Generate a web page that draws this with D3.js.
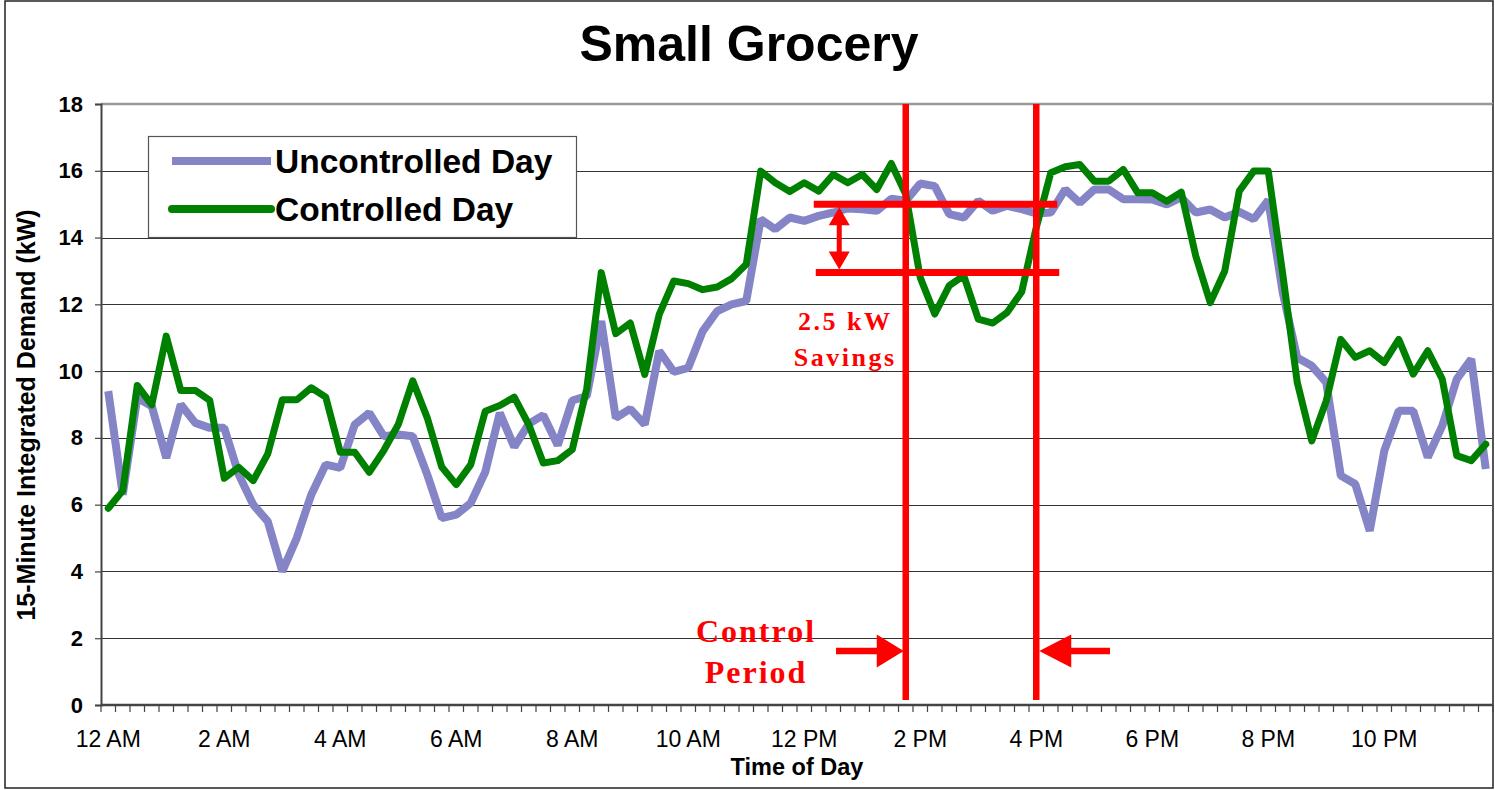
<!DOCTYPE html>
<html>
<head>
<meta charset="utf-8">
<script src="https://cdn.jsdelivr.net/npm/d3@7"></script>
<style>
  html, body { margin: 0; padding: 0; background: #fff; }
  svg { display: block; }
</style>
</head>
<body>
<svg id="chart" width="1495" height="790"></svg>
<script>
// 15-minute slots over one day (96 categories)
const slots = d3.range(96).map(i =>
    String(Math.floor(i / 4)).padStart(2, '0') + ':' + String((i % 4) * 15).padStart(2, '0'));

// Every 8th slot gets a label
const tickLabels = ['12 AM', '2 AM', '4 AM', '6 AM', '8 AM', '10 AM',
                    '12 PM', '2 PM', '4 PM', '6 PM', '8 PM', '10 PM'];
const tickSlots = ['00:00', '02:00', '04:00', '06:00', '08:00', '10:00',
                   '12:00', '14:00', '16:00', '18:00', '20:00', '22:00'];

const yTicks = [0, 2, 4, 6, 8, 10, 12, 14, 16, 18];

// Demand in kW
const uncontrolled = [
    9.4, 6.3, 9.2, 8.95, 7.4, 9.0, 8.45, 8.3, 8.3, 6.9, 6.0, 5.5,
    4.0, 5.0, 6.3, 7.2, 7.1, 8.4, 8.75, 8.05, 8.1, 8.05, 6.9, 5.6,
    5.7, 6.05, 6.98, 8.75, 7.73, 8.42, 8.68, 7.78, 9.12, 9.25, 11.5, 8.6,
    8.87, 8.4, 10.6, 9.98, 10.1, 11.2, 11.8, 12.0, 12.1, 14.55, 14.25, 14.6,
    14.5, 14.65, 14.75, 14.87, 14.85, 14.8, 15.16, 15.1, 15.62, 15.54, 14.7, 14.6,
    15.1, 14.8, 14.95, 14.85, 14.72, 14.75, 15.44, 15.04, 15.44, 15.44, 15.15, 15.15,
    15.14, 14.99, 15.2, 14.75, 14.84, 14.6, 14.77, 14.55, 15.12, 12.35, 10.4, 10.16,
    9.66, 6.87, 6.62, 5.22, 7.61, 8.81, 8.81, 7.42, 8.36, 9.76, 10.36, 7.07
];

const controlled = [
    5.89, 6.42, 9.57, 8.99, 11.05, 9.42, 9.42, 9.12, 6.79, 7.12, 6.72, 7.52,
    9.14, 9.14, 9.5, 9.22, 7.57, 7.57, 6.97, 7.62, 8.4, 9.71, 8.6, 7.13,
    6.6, 7.2, 8.8, 8.97, 9.22, 8.4, 7.25, 7.32, 7.65, 9.47, 12.95, 11.12,
    11.44, 9.9, 11.7, 12.7, 12.62, 12.44, 12.52, 12.77, 13.2, 15.99, 15.64, 15.38,
    15.64, 15.39, 15.89, 15.64, 15.89, 15.44, 16.22, 15.3, 12.8, 11.71, 12.56, 12.86,
    11.56, 11.44, 11.76, 12.38, 14.3, 15.94, 16.12, 16.19, 15.69, 15.69, 16.04, 15.34,
    15.34, 15.09, 15.36, 13.45, 12.05, 13.0, 15.39, 15.99, 15.99, 12.9, 9.66, 7.91,
    9.11, 10.95, 10.41, 10.61, 10.26, 10.95, 9.91, 10.61, 9.76, 7.47, 7.32, 7.81
];

const seriesNames = ['Uncontrolled Day', 'Controlled Day'];

// Annotation anchors
const controlStart = '13:45';
const controlEnd = '16:00';
const savingsHigh = 15.0;
const savingsLow = 12.95;

// Layout
const plot = { left: 101, right: 1493, top: 104, bottom: 705 };
const purple = '#8484c6';
const green = '#008000';
const red = '#ff0000';
const sans = '"Liberation Sans", Arial, sans-serif';
const serif = '"Liberation Serif", "Times New Roman", serif';

const svg = d3.select('#chart');

const x = d3.scaleBand()
    .domain(slots)
    .range([plot.left, plot.right])
    .padding(0);
const bw = x.bandwidth();
const xc = s => x(s) + bw / 2;

const y = d3.scaleLinear()
    .domain([0, 18])
    .range([plot.bottom, plot.top]);

// Outer chart border
svg.append('rect')
    .attr('x', 5).attr('y', 1)
    .attr('width', 1488).attr('height', 787)
    .attr('fill', '#fff')
    .attr('stroke', '#222')
    .attr('stroke-width', 1.5);

// Title
svg.append('text')
    .attr('x', 749).attr('y', 61)
    .attr('text-anchor', 'middle')
    .style('font-family', sans)
    .style('font-weight', 'bold')
    .style('font-size', '50px')
    .text('Small Grocery');

// Gridlines
svg.append('g')
    .selectAll('line')
    .data(yTicks.filter(v => v > 0 && v < 18))
    .join('line')
    .attr('x1', plot.left).attr('x2', plot.right)
    .attr('y1', d => Math.round(y(d)) + 0.5)
    .attr('y2', d => Math.round(y(d)) + 0.5)
    .attr('stroke', '#333')
    .attr('stroke-width', 1);

// Plot border (top + right)
svg.append('line')
    .attr('x1', plot.left).attr('x2', plot.right)
    .attr('y1', plot.top).attr('y2', plot.top)
    .attr('stroke', '#999').attr('stroke-width', 2.5);
svg.append('line')
    .attr('x1', plot.right).attr('x2', plot.right)
    .attr('y1', plot.top).attr('y2', plot.bottom)
    .attr('stroke', '#555').attr('stroke-width', 1.5);

// Y axis
const yAxis = d3.axisLeft(y)
    .tickValues(yTicks)
    .tickSize(6)
    .tickPadding(12);
const gy = svg.append('g')
    .attr('transform', `translate(${plot.left},0)`)
    .call(yAxis);
gy.select('.domain').attr('stroke', '#444').attr('stroke-width', 2);
gy.selectAll('.tick line').attr('stroke', '#444').attr('stroke-width', 1.2);
gy.selectAll('.tick text')
    .style('font-family', sans)
    .style('font-weight', 'bold')
    .style('font-size', '22px')
    .attr('fill', '#000');

// X axis: tick at every slot boundary, labels every two hours
const gx = svg.append('g')
    .attr('transform', `translate(0,${plot.bottom})`);
gx.append('line')
    .attr('x1', plot.left).attr('x2', plot.right)
    .attr('stroke', '#444').attr('stroke-width', 2.5);
gx.selectAll('line.tk')
    .data(slots.concat(['end']))
    .join('line')
    .attr('class', 'tk')
    .attr('x1', (d, i) => plot.left + i * bw)
    .attr('x2', (d, i) => plot.left + i * bw)
    .attr('y1', 0).attr('y2', 7)
    .attr('stroke', '#444').attr('stroke-width', 1.2);
gx.selectAll('text')
    .data(tickSlots)
    .join('text')
    .attr('x', d => xc(d))
    .attr('y', 42)
    .attr('text-anchor', 'middle')
    .style('font-family', sans)
    .style('font-size', '23px')
    .text((d, i) => tickLabels[i]);

// Axis titles
svg.append('text')
    .attr('x', (plot.left + plot.right) / 2)
    .attr('y', 775)
    .attr('text-anchor', 'middle')
    .style('font-family', sans)
    .style('font-weight', 'bold')
    .style('font-size', '23.5px')
    .text('Time of Day');

svg.append('text')
    .attr('transform', 'translate(35,415) rotate(-90)')
    .attr('text-anchor', 'middle')
    .style('font-family', sans)
    .style('font-weight', 'bold')
    .style('font-size', '25px')
    .text('15-Minute Integrated Demand (kW)');

// Series
const line = d3.line()
    .x((d, i) => xc(slots[i]))
    .y(d => y(d));

svg.append('path')
    .datum(uncontrolled)
    .attr('d', line)
    .attr('fill', 'none')
    .attr('stroke', purple)
    .attr('stroke-width', 8)
    .attr('stroke-linejoin', 'bevel');

svg.append('path')
    .datum(controlled)
    .attr('d', line)
    .attr('fill', 'none')
    .attr('stroke', green)
    .attr('stroke-width', 7)
    .attr('stroke-linejoin', 'round')
    .attr('stroke-linecap', 'round');

// Legend
const legend = svg.append('g');
legend.append('rect')
    .attr('x', 148.5).attr('y', 136.5)
    .attr('width', 428).attr('height', 101)
    .attr('fill', '#fff')
    .attr('stroke', '#555')
    .attr('stroke-width', 1.2);
const legendItems = [
    { name: seriesNames[0], color: purple, cap: 'butt', yy: 161 },
    { name: seriesNames[1], color: green, cap: 'round', yy: 209 }
];
legendItems.forEach(it => {
    legend.append('line')
        .attr('x1', 172).attr('x2', 271)
        .attr('y1', it.yy).attr('y2', it.yy)
        .attr('stroke', it.color)
        .attr('stroke-width', 8)
        .attr('stroke-linecap', it.cap);
    legend.append('text')
        .attr('x', 275).attr('y', it.yy + 12)
        .style('font-family', sans)
        .style('font-weight', 'bold')
        .style('font-size', '33.5px')
        .text(it.name);
});

// Annotations
const ann = svg.append('g');
const xs = xc(controlStart);
const xe = xc(controlEnd);

// control period boundaries
[xs, xe].forEach(xx => {
    ann.append('line')
        .attr('x1', xx).attr('x2', xx)
        .attr('y1', plot.top).attr('y2', 700)
        .attr('stroke', red).attr('stroke-width', 6.5);
});

// savings levels
[[savingsHigh, -92, 21], [savingsLow, -90, 23]].forEach(([v, a, b]) => {
    ann.append('line')
        .attr('x1', xs + a).attr('x2', xe + b)
        .attr('y1', y(v)).attr('y2', y(v))
        .attr('stroke', red).attr('stroke-width', 7);
});

// double arrow between savings levels
const ax = xs - 66.5;
const yHi = y(savingsHigh) + 3;
const yLo = y(savingsLow) - 3;
ann.append('line')
    .attr('x1', ax).attr('x2', ax)
    .attr('y1', yHi + 10).attr('y2', yLo - 10)
    .attr('stroke', red).attr('stroke-width', 5);
ann.append('path')
    .attr('d', `M${ax},${yHi} L${ax - 10.5},${yHi + 18} L${ax + 10.5},${yHi + 18} Z`)
    .attr('fill', red);
ann.append('path')
    .attr('d', `M${ax},${yLo} L${ax - 10.5},${yLo - 18} L${ax + 10.5},${yLo - 18} Z`)
    .attr('fill', red);

// savings label
const savingsText = ann.append('text')
    .attr('text-anchor', 'middle')
    .style('font-family', serif)
    .style('font-weight', 'bold')
    .style('font-size', '26px')
    .style('letter-spacing', '2.5px')
    .attr('fill', red);
savingsText.append('tspan').attr('x', ax + 6).attr('y', 330).text('2.5 kW');
savingsText.append('tspan').attr('x', ax + 6).attr('y', 366).text('Savings');

// control period label
const ctrlText = ann.append('text')
    .attr('text-anchor', 'middle')
    .style('font-family', serif)
    .style('font-weight', 'bold')
    .style('font-size', '32px')
    .style('letter-spacing', '2px')
    .attr('fill', red);
ctrlText.append('tspan').attr('x', 756).attr('y', 642).text('Control');
ctrlText.append('tspan').attr('x', 756).attr('y', 683).text('Period');

// horizontal arrows pointing at the boundaries
const ay = 651;
ann.append('line')
    .attr('x1', 836).attr('x2', xs - 28)
    .attr('y1', ay).attr('y2', ay)
    .attr('stroke', red).attr('stroke-width', 6.5);
ann.append('path')
    .attr('d', `M${xs - 2},${ay} L${xs - 29},${ay - 16.5} L${xs - 29},${ay + 16.5} Z`)
    .attr('fill', red);
ann.append('line')
    .attr('x1', xe + 33).attr('x2', 1110)
    .attr('y1', ay).attr('y2', ay)
    .attr('stroke', red).attr('stroke-width', 6.5);
ann.append('path')
    .attr('d', `M${xe + 3},${ay} L${xe + 35},${ay - 16.5} L${xe + 35},${ay + 16.5} Z`)
    .attr('fill', red);
</script>
</body>
</html>
